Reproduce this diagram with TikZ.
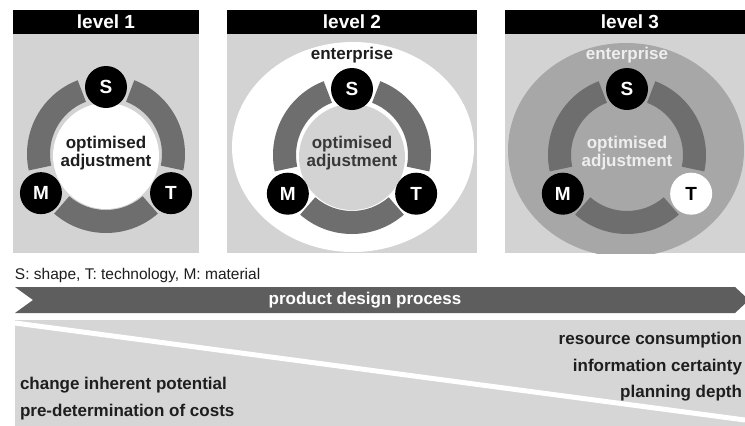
\documentclass[tikz,border=0pt]{standalone}
\usepackage{fontspec}
\setmainfont{Liberation Sans}
\usetikzlibrary{calc}
\definecolor{panelbg}{HTML}{D3D3D3}
\definecolor{arccol}{HTML}{6E6E6E}
\definecolor{bigcirc}{HTML}{A7A7A7}
\definecolor{lighttxt}{HTML}{EEEEEE}
\definecolor{bandcol}{HTML}{5E5E5E}
\definecolor{lowbg}{HTML}{D6D6D6}
\definecolor{darktxt}{HTML}{1E1E1E}
\newcommand\ringarcs[1]{%
  \foreach \a/\b in {111/192,229/311,348/429}{%
    \fill[arccol] ($(#1)+(\a:56pt)$) arc[start angle=\a, end angle=\b, radius=56pt]
      -- ($(#1)+(\b:79pt)$) arc[start angle=\b, end angle=\a, radius=79pt] -- cycle;}}
\begin{document}
\begin{tikzpicture}[x=1pt,y=1pt,
  every node/.style={inner sep=0pt, outer sep=0pt},
  hdrtext/.style={text=white, font=\fontsize{19}{21}\selectfont\bfseries},
  ringtext/.style={font=\fontsize{17}{18.5}\selectfont\bfseries, align=center},
  smt/.style={circle, fill=black, minimum size=42pt, text=white, font=\fontsize{19}{19}\selectfont\bfseries},
  bottxt/.style={text=darktxt, font=\fontsize{17}{18}\selectfont\bfseries}]
\useasboundingbox (0,0) rectangle (745,-426);
\fill[white] (0,0) rectangle (745,-426);

% ---------- level 1 ----------
\fill[panelbg] (13,-34) rectangle (199,-253);
\fill[black] (13,-10) rectangle (199,-34);
\node[hdrtext] (h1) at (106,-22) {level 1};
\coordinate (a1) at (106,-154);
\coordinate (n1) at (106,-160);
\ringarcs{a1}
\fill[white] (106,-156) circle[radius=53pt];
\node[ringtext, text=darktxt] (o1) at (106,-153) {optimised\\adjustment};
\node[smt] (s1) at ($(n1)+(90:73pt)$) {S};
\node[smt] (m1) at ($(n1)+(207:73pt)$) {M};
\node[smt] (t1) at ($(n1)+(333:73pt)$) {T};

% ---------- level 2 ----------
\fill[panelbg] (227,-34) rectangle (477,-253);
\begin{scope}
  \clip (227,-34) rectangle (477,-253);
  \fill[white] (353,-147) ellipse[x radius=121pt, y radius=105pt];
\end{scope}
\fill[black] (227,-10) rectangle (477,-34);
\node[hdrtext] (h2) at (352,-22) {level 2};
\node[ringtext, text=darktxt] (e2) at (352,-55) {enterprise};
\coordinate (a2) at (352,-155);
\coordinate (n2) at (352,-161);
\ringarcs{a2}
\fill[panelbg] (352,-157) circle[radius=53pt];
\node[ringtext, text=black!78] (o2) at (352,-153) {optimised\\adjustment};
\node[smt] (s2) at ($(n2)+(90:72pt)$) {S};
\node[smt] (m2) at ($(n2)+(207:72pt)$) {M};
\node[smt] (t2) at ($(n2)+(333:72pt)$) {T};

% ---------- level 3 ----------
\fill[panelbg] (505,-34) rectangle (755,-253);
\begin{scope}
  \clip (505,-34) rectangle (755,-253);
  \fill[bigcirc] (626,-150) ellipse[x radius=118pt, y radius=107pt];
\end{scope}
\fill[black] (505,-10) rectangle (755,-34);
\node[hdrtext] (h3) at (630,-22) {level 3};
\node[ringtext, text=lighttxt] (e3) at (627,-55) {enterprise};
\coordinate (a3) at (627,-155);
\coordinate (n3) at (627,-161);
\ringarcs{a3}
\node[ringtext, text=lighttxt] (o3) at (627,-153) {optimised\\adjustment};
\node[smt] (s3) at ($(n3)+(90:72pt)$) {S};
\node[smt] (m3) at ($(n3)+(207:72pt)$) {M};
\node[smt, fill=white, text=black] (t3) at ($(n3)+(333:72pt)$) {T};

% ---------- legend ----------
\node[anchor=west, font=\fontsize{15.5}{17}\selectfont, text=darktxt] (leg) at (15,-275) {S: shape, T: technology, M: material};

% ---------- process band ----------
\fill[bandcol] (15,-287) -- (735,-287) -- (749,-300) -- (735,-313) -- (15,-313) -- (33,-300) -- cycle;
\node[text=white, font=\fontsize{17}{18}\selectfont\bfseries] (pdp) at (365,-300) {product design process};

% ---------- bottom area ----------
\fill[lowbg] (15,-320) rectangle (745,-426);
\coordinate (dl) at (15,-323);
\coordinate (dr) at (745,-420);
\draw[white, line width=5pt] (dl) -- (dr);
\node[bottxt, anchor=east] (r1) at (742,-340) {resource consumption};
\node[bottxt, anchor=east] (r2) at (742,-367) {information certainty};
\node[bottxt, anchor=east] (r3) at (742,-393) {planning depth};
\node[bottxt, anchor=west] (l1) at (20,-385) {change inherent potential};
\node[bottxt, anchor=west] (l2) at (20,-412) {pre-determination of costs};
\end{tikzpicture}
\end{document}
